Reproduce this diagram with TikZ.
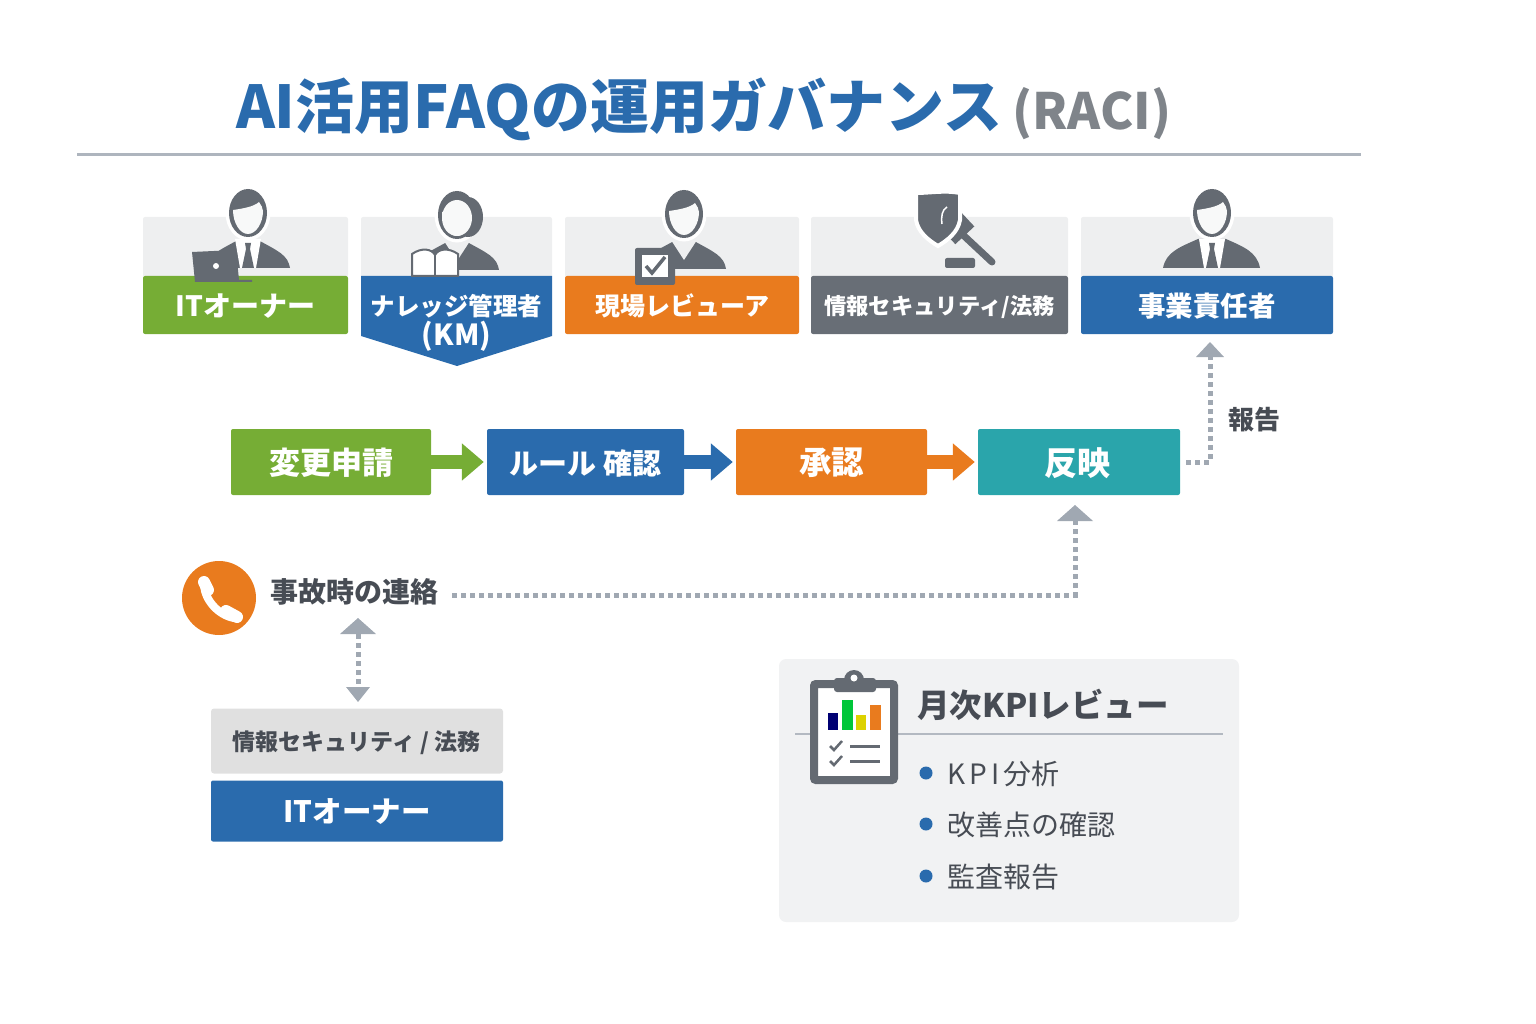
\documentclass[tikz,border=0pt]{standalone}
\usepackage{fontspec}
\setmainfont{Noto Sans CJK JP}
\usetikzlibrary{arrows.meta}
\newcommand{\sz}[1]{\fontsize{#1}{#1}\selectfont}
\newcommand{\dn}[2]{\raisebox{-#1pt}[\height][\depth]{#2}}
\definecolor{bluebar}{HTML}{2A6BAD}
\definecolor{greenbar}{HTML}{76AD35}
\definecolor{orangebar}{HTML}{E97B1E}
\definecolor{graybar}{HTML}{686E76}
\definecolor{tealbar}{HTML}{2AA5AB}
\definecolor{cardgray}{HTML}{EEEFF0}
\definecolor{linkgray}{HTML}{A0A8B2}
\definecolor{icongray}{HTML}{646A72}
\definecolor{inkgray}{HTML}{474C54}
\tikzset{
  x=1pt,y=-1pt,
  cardtop/.style={fill=cardgray,rounded corners=2pt,inner sep=0pt,minimum height=60pt},
  cardbar/.style={text=white,font=\bfseries,rounded corners=2pt,inner sep=0pt,minimum height=58pt,align=center},
  flowbox/.style={text=white,font=\bfseries\sz{31},rounded corners=2pt,inner sep=0pt,minimum height=66pt},
  flowarrow/.style={line width=14pt,-{Triangle[length=22pt,width=36pt]},shorten >=3pt},
  linkline/.style={linkgray,line width=5pt,dash pattern=on 5pt off 4pt},
  linktip/.style={fill=linkgray},
  kpitext/.style={text=inkgray,font=\sz{28},anchor=west,inner sep=0pt},
  kpidot/.style={circle,fill=bluebar,inner sep=0pt,minimum size=13pt},
  personpic/.pic={
    \fill[icongray] (-42,55) .. controls (-40,42) and (-30,38) .. (-10,27) -- (10,27) .. controls (30,38) and (40,42) .. (42,55) -- cycle;
    \fill[cardgray] (-13,26) -- (13,26) -- (0,46) -- cycle;
    \fill[white,draw=white,line width=3pt] (0,0) ellipse (21pt and 26pt);
    \fill[icongray] (0,0) ellipse (19pt and 24pt);
    \fill[cardgray!40!white] (-15,-3) .. controls (-8,-4) and (6,-6) .. (11,-11) .. controls (13,-8) and (15,-5) .. (15,-2) .. controls (15,10) and (8,21) .. (0,21) .. controls (-8,21) and (-15,10) .. (-15,-3) -- cycle;
  },
  tiepic/.pic={
    \fill[white] (-13,26) -- (13,26) -- (8,55) -- (-8,55) -- cycle;
    \fill[icongray] (-3,30) -- (3,30) -- (2,36) -- (6,55) -- (-6,55) -- (-2,36) -- cycle;
  }
}
\begin{document}
\begin{tikzpicture}
\useasboundingbox (0,0) rectangle (1536,1024);
% title
\node (title) at (619,109) [text=bluebar,font=\bfseries\sz{59},inner sep=0pt] {AI活用FAQの運用ガバナンス};
\node (raci) at (1092,114) [text=graybar!85!white,font=\bfseries\sz{50},inner sep=0pt] {(RACI)};
\draw[color=linkgray!85!white,line width=3pt] (77,155) -- (1361,155);
% role cards
\node (top1) at (245.5,247) [cardtop,minimum width=205pt] {};
\node (top2) at (456.5,247) [cardtop,minimum width=191pt] {};
\node (top3) at (682,247) [cardtop,minimum width=234pt] {};
\node (top4) at (939.5,247) [cardtop,minimum width=257pt] {};
\node (top5) at (1207,247) [cardtop,minimum width=252pt] {};
\fill[bluebar] (361,276) -- (552,276) -- (552,336) -- (457,366) -- (361,336) -- cycle;
\node (role1) at (245.5,305) [cardbar,fill=greenbar,minimum width=205pt,font=\bfseries\sz{28}] {\dn{1}{ITオーナー}};
\node (role2) at (456.5,323) [cardbar,minimum width=191pt,font=\bfseries\sz{24.5}] {ナレッジ管理者\\[2pt]{\sz{29}(KM)}};
\node (role3) at (682,305) [cardbar,fill=orangebar,minimum width=234pt,font=\bfseries\sz{25}] {\dn{1}{現場レビューア}};
\node (role4) at (939.5,305) [cardbar,fill=graybar,minimum width=257pt,font=\bfseries\sz{22.3}] {\dn{2}{情報セキュリティ/法務}};
\node (role5) at (1207,305) [cardbar,fill=bluebar,minimum width=252pt,font=\bfseries\sz{27.5}] {\dn{1}{事業責任者}};
% people
\pic at (248,213) {personpic};
\pic at (248,213) {tiepic};
\fill[icongray] (192,252) -- (236,250) -- (239,280) -- (252,280) -- (252,282) -- (195,282) -- cycle;
\fill[white] (216,266) circle (3pt);
\pic at (457,215) {personpic};
\fill[icongray] (468,217) ellipse (15pt and 20pt);
\fill[cardgray!40!white] (457,218) ellipse (15pt and 18pt);
\fill[white,draw=icongray,line width=2pt] (412,276) -- (412,254) .. controls (422,247) and (432,249) .. (435,255) .. controls (438,249) and (448,247) .. (458,254) -- (458,276) -- cycle;
\draw[icongray,line width=2pt] (435,255) -- (435,276);
\pic at (684,214) {personpic};
\fill[icongray,rounded corners=2pt] (635,248) rectangle (675,285);
\fill[white] (642,255) rectangle (668,277);
\draw[icongray,line width=3.5pt] (646,266) -- (652,273) -- (665,257);
\fill[icongray] (1163,268) .. controls (1166,252) and (1180,247) .. (1198,239) -- (1226,239) .. controls (1244,247) and (1257,252) .. (1260,268) -- cycle;
\pic at (1212,213) {personpic};
\pic at (1212,213) {tiepic};
% shield and gavel
\draw[icongray,line width=7pt,line cap=round] (962,234) -- (992,262);
\fill[icongray,rotate around={43:(958,228)}] (945,216) rectangle (971,238);
\fill[icongray,rounded corners=2pt] (945,268) -- (945,258) -- (975,258) -- (975,268) -- cycle;
\fill[icongray,draw=white,line width=4pt] (916,193) .. controls (930,193) and (945,190) .. (960,193) -- (960,220) .. controls (958,232) and (948,240) .. (938,246) .. controls (928,240) and (918,232) .. (916,220) -- cycle;
\draw[white,line width=1.5pt] (947,207) .. controls (942,210) and (941,216) .. (942,224);
% flow
\node (req) at (331,462) [flowbox,fill=greenbar,minimum width=200pt] {\dn{1}{変更申請}};
\node (rule) at (585.5,462) [flowbox,fill=bluebar,minimum width=197pt,font=\bfseries\sz{29}] {\dn{1}{ルール 確認}};
\node (appr) at (831.5,462) [flowbox,fill=orangebar,minimum width=191pt,font=\bfseries\sz{32.5}] {\dn{1}{承認}};
\node (refl) at (1079,462) [flowbox,fill=tealbar,minimum width=202pt,font=\bfseries\sz{33}] {\dn{1}{\hspace{-4pt}反映}};
\draw[flowarrow,greenbar] (req) -- (rule);
\draw[flowarrow,bluebar] (rule) -- (appr);
\draw[flowarrow,orangebar] (appr) -- (refl);
% dotted links
\coordinate (boss) at (1210,342);
\draw[linkline] (refl.east) ++(6,0) -| ([yshift=-15pt]boss);
\fill[linktip] (boss) -- ++(14,15) -- ++(-28,0) -- cycle;
\node (rep) at (1254,420) [text=inkgray,font=\bfseries\sz{26},inner sep=0pt] {報告};
\node (phone) at (219,598) [circle,fill=orangebar,minimum size=74pt,inner sep=0pt] {};
\draw[white,line width=8pt] (204,585) .. controls (205,600) and (218,615) .. (234,618);
\draw[white,line width=12pt,line cap=round] (204,582) -- (208,590);
\draw[white,line width=12pt,line cap=round] (226,611) -- (237,617);
\node (acc) at (354.5,592) [text=inkgray,font=\bfseries\sz{28},inner sep=0pt] {事故時の連絡};
\coordinate (tipa) at (1075,505);
\draw[linkline] (452,595) -- (1075,595) -- ([yshift=-16pt]tipa);
\fill[linktip] (tipa) -- ++(18,16) -- ++(-36,0) -- cycle;
\node (sec) at (357,741) [fill=black!12,text=inkgray,font=\bfseries\sz{23},rounded corners=3pt,inner sep=0pt,minimum width=292pt,minimum height=65pt] {\dn{2}{情報セキュリティ / 法務}};
\node (ito) at (357,811) [fill=bluebar,text=white,font=\bfseries\sz{29.5},rounded corners=2pt,inner sep=0pt,minimum width=292pt,minimum height=61pt] {\dn{1}{ITオーナー}};
\coordinate (tipb) at (358,618);
\coordinate (tipc) at (358,702);
\draw[linkline] ([yshift=-16pt]tipb) -- ([yshift=15pt]tipc);
\fill[linktip] (tipb) -- ++(18,16) -- ++(-36,0) -- cycle;
\fill[linktip] (tipc) -- ++(12,-15) -- ++(-24,0) -- cycle;
% KPI panel
\node (panel) at (1009,790.5) [fill=cardgray!80!white,rounded corners=7pt,inner sep=0pt,minimum width=460pt,minimum height=263pt] {};
\draw[color=linkgray!80!white,line width=2pt] (795,734) -- (1223,734);
\fill[white,draw=icongray,line width=8pt,rounded corners=2pt] (814,684) rectangle (894,780);
\fill[icongray,rounded corners=3pt] (834,678) rectangle (876,692);
\fill[icongray] (854,680) circle (10pt);
\fill[white] (854,678) circle (3.5pt);
\fill[color=blue!45!black] (828,713) rectangle (838,730);
\fill[color=green!55!teal] (842,700) rectangle (853,730);
\fill[color=yellow!70!olive] (856,715) rectangle (866,730);
\fill[color=orangebar] (870,705) rectangle (881,730);
\foreach \y in {746,761} {
  \draw[icongray,line width=2.5pt] (830,\y) -- (834,\y+4) -- (842,\y-5);
  \draw[icongray,line width=3pt] (850,\y) -- (880,\y);
}
\node (kpititle) at (917,705) [kpitext,font=\bfseries\sz{32.5}] {月次KPIレビュー};
\node (dota) at (926,773) [kpidot] {};
\node (dotb) at (926,824) [kpidot] {};
\node (dotc) at (926,876) [kpidot] {};
\node (kpia) at (947,774) [kpitext] {K\hspace{4pt}P\hspace{4pt}I\hspace{4pt}分析};
\node (kpib) at (947,825) [kpitext] {改善点の確認};
\node (kpic) at (947,877) [kpitext] {監査報告};
\end{tikzpicture}
\end{document}
